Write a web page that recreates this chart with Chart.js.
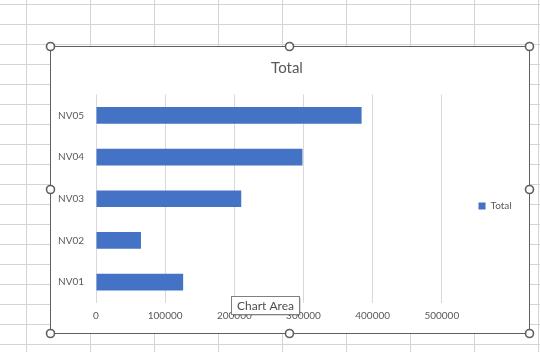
<!DOCTYPE html>
<html><head><meta charset="utf-8">
<script src="https://cdn.jsdelivr.net/npm/chart.js@4"></script>
<style>
html,body{margin:0;padding:0;overflow:hidden;background:#fff;width:540px;height:352px}
#wrap{position:absolute;left:0;top:0;width:540px;height:362px}
</style>
</head><body>
<div id="wrap"><canvas id="c" width="540" height="362"></canvas></div>
<script>
const categories = ['NV01', 'NV02', 'NV03', 'NV04', 'NV05'];
const totals = [126000, 65000, 210000, 298500, 384000];
const xTickValues = [0, 100000, 200000, 300000, 400000, 500000];
const seriesName = 'Total';
const chartTitle = 'Total';
const hoverTip = 'Chart Area';

const TXT = '#595959';
const FONT = 'Lato';

const excelFrame = {
  id: 'excelFrame',
  beforeDraw(chart) {
    const ctx = chart.ctx;
    ctx.save();
    ctx.fillStyle = '#ffffff';
    ctx.fillRect(0, 0, chart.width, chart.height);
    ctx.strokeStyle = '#d4d4d4';
    ctx.lineWidth = 1;
    ctx.beginPath();
    for (let x = 26; x < chart.width; x += 64) { ctx.moveTo(x + 0.5, 0); ctx.lineTo(x + 0.5, chart.height); }
    for (let y = 4; y < chart.height; y += 20) { ctx.moveTo(0, y + 0.5); ctx.lineTo(chart.width, y + 0.5); }
    ctx.stroke();
    ctx.fillStyle = '#ffffff';
    ctx.fillRect(50, 46, 479, 287);
    ctx.strokeStyle = '#5e5e5e';
    ctx.strokeRect(50.5, 46.5, 479, 287);
    ctx.restore();
  },
  afterDraw(chart) {
    const ctx = chart.ctx;
    ctx.save();
    const pts = [[50.5,46.5],[289.5,46.5],[529.5,46.5],[50.5,189.5],[529.5,189.5],[50.5,333.5],[289.5,333.5],[529.5,333.5]];
    ctx.lineWidth = 1.6;
    ctx.strokeStyle = '#5e5e5e';
    ctx.fillStyle = '#ffffff';
    for (const [x, y] of pts) {
      ctx.beginPath(); ctx.arc(x, y, 4, 0, Math.PI * 2); ctx.fill(); ctx.stroke();
    }
    ctx.fillStyle = 'rgba(0,0,0,0.15)';
    ctx.fillRect(233, 298, 68, 18);
    ctx.fillStyle = '#ffffff';
    ctx.fillRect(231.5, 296.5, 68, 18);
    ctx.strokeStyle = '#808080';
    ctx.lineWidth = 1;
    ctx.strokeRect(231.5, 296.5, 68, 18);
    ctx.fillStyle = '#4d4d4d';
    ctx.font = '12px ' + FONT;
    ctx.textBaseline = 'middle';
    ctx.fillText(hoverTip, 237, 306);
    ctx.restore();
  }
};

new Chart(document.getElementById('c'), {
  type: 'bar',
  data: {
    labels: categories,
    datasets: [{
      label: seriesName,
      data: totals,
      backgroundColor: '#4472C4',
      borderWidth: 0,
      barPercentage: 0.4,
      categoryPercentage: 1
    }]
  },
  options: {
    indexAxis: 'y',
    responsive: false,
    animation: false,
    devicePixelRatio: 1,
    layout: { padding: { top: 50, left: 52.3, right: 18.3, bottom: 0 } },
    plugins: {
      title: {
        display: true, text: chartTitle, color: TXT,
        font: { family: FONT, size: 15, weight: 'normal' },
        padding: { top: 9.5, bottom: 17 }
      },
      legend: {
        position: 'right',
        labels: {
          boxWidth: 7, boxHeight: 7, padding: 36.7, color: TXT,
          font: { family: FONT, size: 10 }
        }
      },
      tooltip: { enabled: false }
    },
    scales: {
      x: {
        min: 0, max: 500000,
        afterBuildTicks(s) { s.ticks = xTickValues.map(v => ({ value: v })); },
        ticks: { padding: 7, color: TXT, font: { family: FONT, size: 10 }, maxRotation: 0, autoSkip: false,
                 callback: v => String(v) },
        grid: { color: '#d9d9d9', drawTicks: false },
        border: { display: false },
        afterFit(s) { s.height = 59; }
      },
      y: {
        reverse: true,
        grid: { display: false, drawTicks: false },
        border: { display: false },
        ticks: { padding: 12, color: TXT, font: { family: FONT, size: 10 } },
        afterFit(s) { s.width = 96 - 52.3; }
      }
    }
  },
  plugins: [excelFrame]
});
</script>
</body></html>
